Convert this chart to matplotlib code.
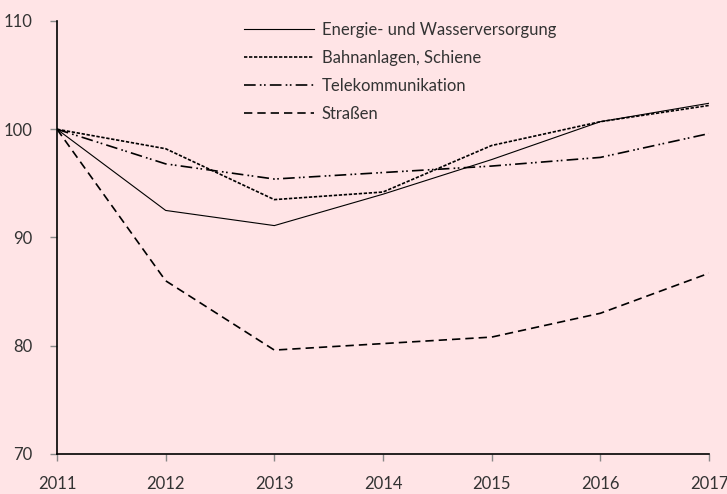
import matplotlib
matplotlib.use("Agg")
import matplotlib.pyplot as plt

years = [2011, 2012, 2013, 2014, 2015, 2016, 2017]
energie = [100, 92.5, 91.1, 94.0, 97.2, 100.7, 102.4]
bahn = [100, 98.2, 93.5, 94.2, 98.5, 100.7, 102.2]
tele = [100, 96.8, 95.4, 96.0, 96.6, 97.4, 99.6]
strassen = [100, 86.0, 79.6, 80.2, 80.8, 83.0, 86.7]
labels = ["Energie- und Wasserversorgung", "Bahnanlagen, Schiene",
          "Telekommunikation", "Straßen"]
yticks = [70, 80, 90, 100, 110]

bg = "#FFE4E6"
plt.rcParams['font.family'] = ['Lato', 'DejaVu Sans']

fig = plt.figure(figsize=(7.27, 4.94), dpi=100, facecolor=bg)
ax = fig.add_axes([57/727, 40/494, 652/727, 433/494], facecolor=bg)

ax.plot(years, energie, color="black", lw=0.8, label=labels[0])
ax.plot(years, bahn, color="black", lw=1.2, dashes=(2, 1), label=labels[1])
ax.plot(years, tele, color="black", lw=1.2, dashes=(7, 2.5, 1, 1.5, 1, 2.5), label=labels[2])
ax.plot(years, strassen, color="black", lw=1.2, dashes=(5, 3), label=labels[3])

ax.set_xlim(2011, 2017)
ax.set_ylim(70, 110)
ax.set_xticks(years)
ax.set_yticks(yticks)
for s in ["top", "right"]:
    ax.spines[s].set_visible(False)
for s in ["left", "bottom"]:
    ax.spines[s].set_linewidth(1.2)
ax.tick_params(axis="both", direction="out", length=5, width=1, color="#888888",
               labelsize=12, labelcolor="#333333")
ax.tick_params(axis="x", pad=11)
ax.tick_params(axis="y", pad=13)
for lab in ax.get_xticklabels():
    lab.set_clip_on(False)

leg = ax.legend(loc="upper left", bbox_to_anchor=(229/727, 487/494),
                bbox_transform=fig.transFigure, frameon=False,
                handlelength=4.2, handletextpad=0.45, labelspacing=0.72,
                fontsize=12, labelcolor="#333333")

fig.savefig("out.png", dpi=100, facecolor=bg)
